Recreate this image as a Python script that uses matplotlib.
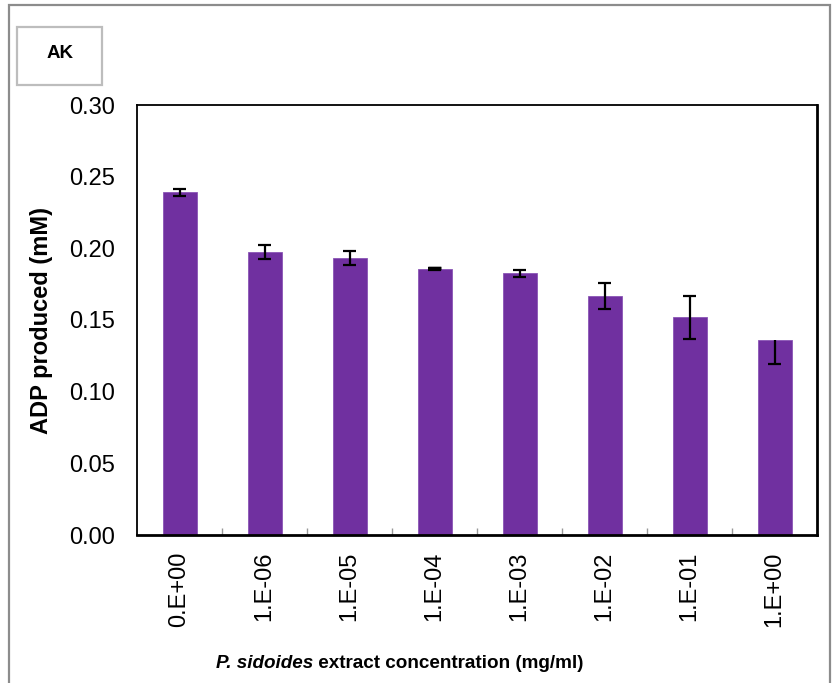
import matplotlib
matplotlib.use("Agg")
import matplotlib.pyplot as plt
from matplotlib.patches import Rectangle
from matplotlib.offsetbox import TextArea, HPacker, AnnotationBbox
import numpy as np

plt.rcParams['font.family'] = ['Liberation Sans', 'DejaVu Sans']

# Adenylate kinase activity vs. extract concentration
concentrations = ["0.E+00", "1.E-06", "1.E-05", "1.E-04", "1.E-03", "1.E-02", "1.E-01", "1.E+00"]
adp_mean = [0.239, 0.1975, 0.1931, 0.1857, 0.1826, 0.1668, 0.1519, 0.1361]
err_low = [0.0025, 0.0047, 0.0050, 0.0005, 0.0025, 0.0092, 0.0149, 0.0167]
err_high = [0.0025, 0.0047, 0.0050, 0.0005, 0.0025, 0.0092, 0.0149, 0.0]
y_ticks = [0.00, 0.05, 0.10, 0.15, 0.20, 0.25, 0.30]

W, H = 835, 683
fig = plt.figure(figsize=(W / 100, H / 100), dpi=100)
ax = fig.add_axes([137 / W, 1 - 535 / H, (817 - 137) / W, (535 - 105) / H])

x = np.arange(len(concentrations))
bar_color = "#7030A0"
ax.bar(x, adp_mean, width=0.4, color=bar_color, edgecolor="#8a55b5", linewidth=0.6, zorder=2)

# error bars (drawn with vertical lines plus caps)
mean = np.array(adp_mean)
lo = mean - np.array(err_low)
hi = mean + np.array(err_high)
ax.vlines(x, lo, hi, color="black", linewidth=1.6, zorder=3)
cap = 0.08
for xi, l, h, el, eh in zip(x, lo, hi, err_low, err_high):
    if el > 0:
        ax.hlines(l, xi - cap, xi + cap, color="black", linewidth=1.6, zorder=3)
    if eh > 0:
        ax.hlines(h, xi - cap, xi + cap, color="black", linewidth=1.6, zorder=3)
    if el == eh and el < 0.001:
        ax.hlines(h, xi - cap, xi + cap, color="black", linewidth=2.5, zorder=3)

ax.set_xlim(-0.5, len(concentrations) - 0.5)
ax.set_ylim(0, 0.30)
ax.set_yticks(y_ticks)
ax.set_yticklabels([f"{v:.2f}" for v in y_ticks], fontsize=17)
ax.tick_params(axis="y", length=0, pad=16)

ax.set_xticks(x)
ax.set_xticklabels(concentrations, rotation=90, fontsize=17, va="top", ha="center")
ax.tick_params(axis="x", which="major", length=0, pad=12)
ax.set_xticks(np.arange(0.5, len(concentrations) - 0.5, 1.0), minor=True)
ax.tick_params(axis="x", which="minor", direction="in", length=5, color="#999999", width=1)

for side in ["left", "top"]:
    ax.spines[side].set_linewidth(1.3)
    ax.spines[side].set_color("black")
for side in ["right", "bottom"]:
    ax.spines[side].set_linewidth(2.0)
    ax.spines[side].set_color("black")

# y-axis title
fig.text(42 / W, 1 - 320 / H, "ADP produced (mM)", rotation=90, ha="center", va="center",
         fontsize=17, fontweight="bold")

# x-axis title with italic species name
title_size = 13.6
parts = HPacker(children=[
    TextArea("P. sidoides", textprops=dict(fontsize=title_size, fontweight="bold", style="italic")),
    TextArea(" extract concentration (mg/ml)", textprops=dict(fontsize=title_size, fontweight="bold")),
], sep=0, align="baseline", pad=0)
ab = AnnotationBbox(parts, (400 / W, 1 - 663 / H), xycoords="figure fraction",
                    frameon=False, box_alignment=(0.5, 0.5), pad=0)
fig.add_artist(ab)

# outer frame of the chart area
fig.add_artist(Rectangle((9 / W, -0.2), (830 - 9) / W, 1.2 - 5 / H, transform=fig.transFigure,
                         fill=False, edgecolor="#8c8c8c", linewidth=1.6))

# panel tag
fig.add_artist(Rectangle((17 / W, 1 - 85 / H), (102 - 17) / W, (85 - 27) / H,
                         transform=fig.transFigure, fill=False, edgecolor="#bdbdbd", linewidth=1.6))
fig.text(60 / W, 1 - 53 / H, "AK", ha="center", va="center", fontsize=13.5, fontweight="bold")

fig.savefig("out.png", dpi=100)
